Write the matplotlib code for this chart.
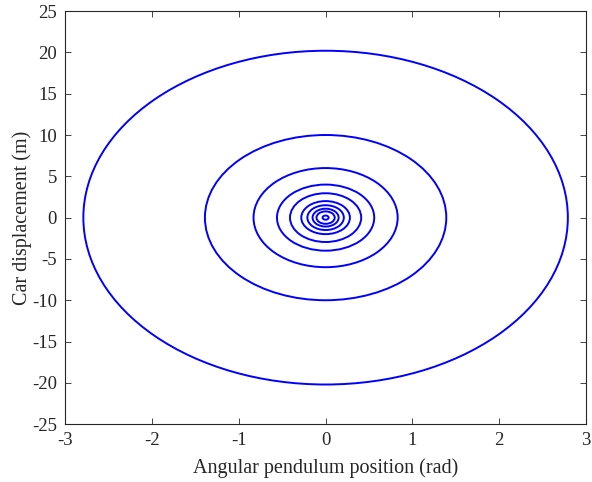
import matplotlib
matplotlib.use("Agg")
import matplotlib.pyplot as plt
from matplotlib.patches import Ellipse

# semi-axes of each closed trajectory
x_amp = [2.79, 1.39, 0.83, 0.56, 0.41, 0.28, 0.21, 0.15, 0.105, 0.035]
y_amp = [20.2, 10.0, 6.0, 4.0, 2.95, 2.0, 1.5, 1.08, 0.75, 0.25]

xticks = [-3, -2, -1, 0, 1, 2, 3]
yticks = [-25, -20, -15, -10, -5, 0, 5, 10, 15, 20, 25]

plt.rcParams['font.family'] = ['Liberation Serif', 'DejaVu Serif']

fig = plt.figure(figsize=(5.92, 4.82), dpi=100)
ax = fig.add_axes([0.110, 0.120, 0.880, 0.857])

for a, b in zip(x_amp, y_amp):
    ax.add_patch(Ellipse((0, 0), 2 * a, 2 * b, fill=False, edgecolor=(0, 0, 1), linewidth=1.4))

ax.set_xlim(-3, 3)
ax.set_ylim(-25, 25)
ax.set_xticks(xticks)
ax.set_yticks(yticks)
ax.set_xticklabels([str(t) for t in xticks])
ax.set_yticklabels([str(t) for t in yticks])
ax.tick_params(direction='in', top=True, right=True, labelsize=13.5, colors='#262626',
               length=4, width=0.6, pad=6)
for s in ax.spines.values():
    s.set_color('#262626')
    s.set_linewidth(0.8)
ax.set_xlabel('Angular pendulum position (rad)', fontsize=14.5, color='#262626', labelpad=6)
ax.set_ylabel('Car displacement (m)', fontsize=14.5, color='#262626', labelpad=0)

fig.savefig('out.png', dpi=100)
